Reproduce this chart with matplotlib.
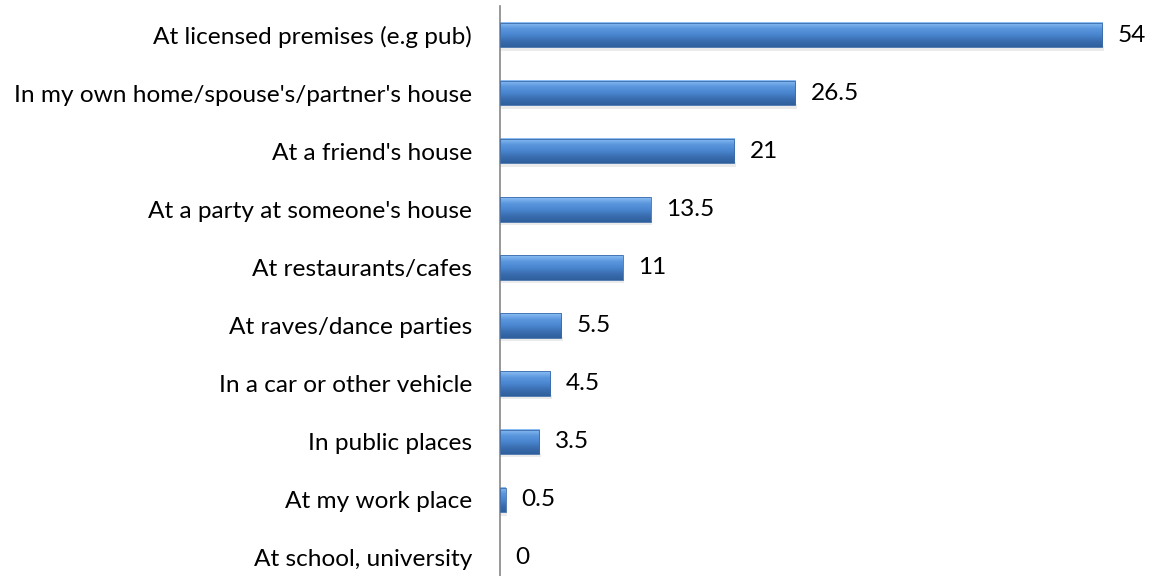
import numpy as np
import matplotlib.pyplot as plt
from matplotlib.colors import LinearSegmentedColormap

# Data (top to bottom as in the chart)
categories = [
    "At licensed premises (e.g pub)",
    "In my own home/spouse's/partner's house",
    "At a friend's house",
    "At a party at someone's house",
    "At restaurants/cafes",
    "At raves/dance parties",
    "In a car or other vehicle",
    "In public places",
    "At my work place",
    "At school, university",
]
values = [54, 26.5, 21, 13.5, 11, 5.5, 4.5, 3.5, 0.5, 0]
value_labels = ["54", "26.5", "21", "13.5", "11", "5.5", "4.5", "3.5", "0.5", "0"]

plt.rcParams['font.family'] = ['Lato', 'DejaVu Sans']
fs = 17.6

fig = plt.figure(figsize=(11.51, 5.76), dpi=100)
ax = fig.add_axes([500 / 1151, 0.0, 651 / 1151, 570 / 576])

n = len(categories)
ypos = np.arange(n)[::-1]
bar_h = 0.42

# bevelled blue gradient (top light -> bottom dark)
grad_cmap = LinearSegmentedColormap.from_list(
    "bevel", ["#2f5f9c", "#3a6eb0", "#4a86d0", "#5b97de", "#8cc0f5"])
grad = np.linspace(0, 1, 64).reshape(-1, 1)

for y, v in zip(ypos, values):
    if v > 0:
        # soft shadow
        ax.add_patch(plt.Rectangle((0, y - bar_h / 2 - 0.06), v + 0.15, 0.08,
                                   facecolor="#000000", alpha=0.08, linewidth=0, zorder=1))
        ax.imshow(grad, cmap=grad_cmap, aspect="auto", origin="lower",
                  extent=(0, v, y - bar_h / 2, y + bar_h / 2), zorder=2)
        ax.add_patch(plt.Rectangle((0, y - bar_h / 2), v, bar_h, fill=False,
                                   edgecolor="#3b6aa8", linewidth=0.6, zorder=3))

for y, v, lab in zip(ypos, values, value_labels):
    ax.text(v + 1.4, y, lab, va="center", ha="left", fontsize=fs, color="black")

ax.set_xlim(0, 651 / 11.15)
ax.set_ylim(-0.31, 9.5)
ax.set_yticks(ypos)
ax.set_yticklabels(categories, fontsize=fs)
ax.tick_params(axis="y", length=0, pad=20)
ax.set_xticks([])
for s in ["top", "right", "bottom"]:
    ax.spines[s].set_visible(False)
ax.spines["left"].set_color("#868686")
ax.spines["left"].set_linewidth(1.2)

fig.savefig("out.png", dpi=100)
